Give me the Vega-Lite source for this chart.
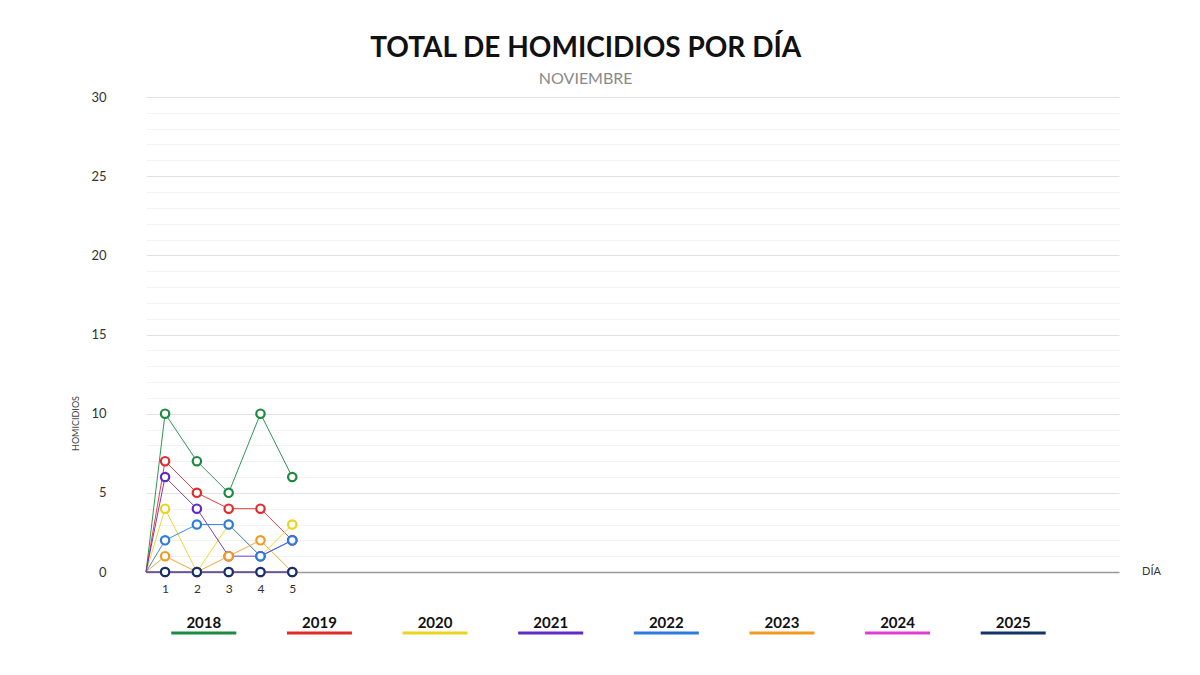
{
  "$schema": "https://vega.github.io/schema/vega-lite/v6.json",
  "background": "white",
  "padding": {"left": 71, "top": 35, "right": 30, "bottom": 20},
  "bounds": "flush",
  "spacing": 51,
  "title": {
    "text": "TOTAL DE HOMICIDIOS POR DÍA",
    "subtitle": "NOVIEMBRE",
    "anchor": "middle",
    "dx": -30,
    "font": "Lato",
    "fontSize": 28,
    "fontWeight": "bold",
    "color": "#111111",
    "subtitleFont": "Lato",
    "subtitleFontSize": 16,
    "subtitleFontWeight": "normal",
    "subtitleColor": "#8a8a8a",
    "subtitlePadding": 8,
    "offset": 4
  },
  "config": {
    "font": "Lato",
    "view": {"stroke": null}
  },
  "datasets": {
    "homicidios": [
      {"anio": "2018", "dia": 0.4, "homicidios": 0},
      {"anio": "2018", "dia": 1, "homicidios": 10},
      {"anio": "2018", "dia": 2, "homicidios": 7},
      {"anio": "2018", "dia": 3, "homicidios": 5},
      {"anio": "2018", "dia": 4, "homicidios": 10},
      {"anio": "2018", "dia": 5, "homicidios": 6},
      {"anio": "2019", "dia": 0.4, "homicidios": 0},
      {"anio": "2019", "dia": 1, "homicidios": 7},
      {"anio": "2019", "dia": 2, "homicidios": 5},
      {"anio": "2019", "dia": 3, "homicidios": 4},
      {"anio": "2019", "dia": 4, "homicidios": 4},
      {"anio": "2019", "dia": 5, "homicidios": 2},
      {"anio": "2020", "dia": 0.4, "homicidios": 0},
      {"anio": "2020", "dia": 1, "homicidios": 4},
      {"anio": "2020", "dia": 2, "homicidios": 0},
      {"anio": "2020", "dia": 3, "homicidios": 3},
      {"anio": "2020", "dia": 4, "homicidios": 1},
      {"anio": "2020", "dia": 5, "homicidios": 3},
      {"anio": "2021", "dia": 0.4, "homicidios": 0},
      {"anio": "2021", "dia": 1, "homicidios": 6},
      {"anio": "2021", "dia": 2, "homicidios": 4},
      {"anio": "2021", "dia": 3, "homicidios": 1},
      {"anio": "2021", "dia": 4, "homicidios": 1},
      {"anio": "2021", "dia": 5, "homicidios": 2},
      {"anio": "2022", "dia": 0.4, "homicidios": 0},
      {"anio": "2022", "dia": 1, "homicidios": 2},
      {"anio": "2022", "dia": 2, "homicidios": 3},
      {"anio": "2022", "dia": 3, "homicidios": 3},
      {"anio": "2022", "dia": 4, "homicidios": 1},
      {"anio": "2022", "dia": 5, "homicidios": 2},
      {"anio": "2023", "dia": 0.4, "homicidios": 0},
      {"anio": "2023", "dia": 1, "homicidios": 1},
      {"anio": "2023", "dia": 2, "homicidios": 0},
      {"anio": "2023", "dia": 3, "homicidios": 1},
      {"anio": "2023", "dia": 4, "homicidios": 2},
      {"anio": "2023", "dia": 5, "homicidios": 0},
      {"anio": "2024", "dia": 0.4, "homicidios": 0},
      {"anio": "2024", "dia": 1, "homicidios": 0},
      {"anio": "2024", "dia": 2, "homicidios": 0},
      {"anio": "2024", "dia": 3, "homicidios": 0},
      {"anio": "2024", "dia": 4, "homicidios": 0},
      {"anio": "2024", "dia": 5, "homicidios": 0},
      {"anio": "2025", "dia": 0.4, "homicidios": 0},
      {"anio": "2025", "dia": 1, "homicidios": 0},
      {"anio": "2025", "dia": 2, "homicidios": 0},
      {"anio": "2025", "dia": 3, "homicidios": 0},
      {"anio": "2025", "dia": 4, "homicidios": 0},
      {"anio": "2025", "dia": 5, "homicidios": 0}
    ],
    "anios": [
      {"anio": "2018"}, {"anio": "2019"}, {"anio": "2020"}, {"anio": "2021"},
      {"anio": "2022"}, {"anio": "2023"}, {"anio": "2024"}, {"anio": "2025"}
    ]
  },
  "vconcat": [
    {
      "width": 973,
      "height": 475,
      "data": {"name": "homicidios"},
      "encoding": {
        "x": {
          "field": "dia",
          "type": "quantitative",
          "scale": {"domain": [0.4, 31], "nice": false, "zero": false},
          "axis": {
            "values": [1, 2, 3, 4, 5],
            "grid": false,
            "ticks": false,
            "domainColor": "#9a9a9a",
            "domainWidth": 1.5,
            "labelPadding": 11,
            "labelFontSize": 12,
            "labelColor": "#333333",
            "title": "DÍA",
            "titleFontSize": 11,
            "titleFontWeight": "normal",
            "titleColor": "#333333",
            "titleX": 1005,
            "titleY": -1,
            "titleAlign": "center",
            "titleBaseline": "middle"
          }
        },
        "y": {
          "field": "homicidios",
          "type": "quantitative",
          "scale": {"domain": [0, 30], "nice": false},
          "axis": {
            "title": "HOMICIDIOS",
            "values": [0, 1, 2, 3, 4, 5, 6, 7, 8, 9, 10, 11, 12, 13, 14, 15, 16, 17, 18, 19, 20, 21, 22, 23, 24, 25, 26, 27, 28, 29, 30],
            "labelExpr": "datum.value % 5 === 0 ? datum.label : ''",
            "gridColor": {"condition": {"test": "datum.value % 5 === 0", "value": "#e2e2e2"}, "value": "#f3f3f3"},
            "domain": false,
            "ticks": false,
            "labelPadding": 40,
            "labelFontSize": 13,
            "labelColor": "#333333",
            "titleFontSize": 9,
            "titleFontWeight": "normal",
            "titleColor": "#444444",
            "titleX": -71,
            "titleY": 326,
            "titleAngle": 270,
            "titleAlign": "center",
            "titleBaseline": "middle"
          }
        }
      },
      "layer": [
        {
          "mark": {"type": "line", "strokeWidth": 1, "opacity": 0.9},
          "encoding": {
            "color": {
              "field": "anio",
              "type": "nominal",
              "scale": {
                "domain": ["2018", "2019", "2020", "2021", "2022", "2023", "2024", "2025"],
                "range": ["#1a8a40", "#e32a2a", "#ead41c", "#5f2bc4", "#2e7be0", "#f29a20", "#e03ad8", "#12336a"]
              },
              "legend": null
            }
          }
        },
        {
          "transform": [{"filter": "datum.dia >= 1"}],
          "mark": {"type": "point", "shape": "circle", "filled": false, "fill": "white", "fillOpacity": 1, "opacity": 1, "strokeWidth": 2.2, "size": 70},
          "encoding": {
            "stroke": {
              "field": "anio",
              "type": "nominal",
              "scale": {
                "domain": ["2018", "2019", "2020", "2021", "2022", "2023", "2024", "2025"],
                "range": ["#1a8a40", "#e32a2a", "#ead41c", "#5f2bc4", "#2e7be0", "#f29a20", "#e03ad8", "#12336a"]
              },
              "legend": null
            }
          }
        }
      ]
    },
    {
      "width": 925,
      "height": 20,
      "data": {"name": "anios"},
      "encoding": {
        "x": {
          "field": "anio",
          "type": "nominal",
          "scale": {"paddingInner": 0, "paddingOuter": 0},
          "axis": null
        }
      },
      "layer": [
        {
          "mark": {"type": "text", "fontSize": 15, "fontWeight": "bold", "color": "#111111", "baseline": "alphabetic", "dy": -5},
          "encoding": {"text": {"field": "anio"}}
        },
        {
          "mark": {"type": "tick", "orient": "horizontal", "size": 65, "thickness": 3, "opacity": 1},
          "encoding": {
            "color": {
              "field": "anio",
              "type": "nominal",
              "scale": {
                "domain": ["2018", "2019", "2020", "2021", "2022", "2023", "2024", "2025"],
                "range": ["#1a8a40", "#e32a2a", "#ead41c", "#5f2bc4", "#2e7be0", "#f29a20", "#e03ad8", "#12336a"]
              },
              "legend": null
            }
          }
        }
      ]
    }
  ]
}
